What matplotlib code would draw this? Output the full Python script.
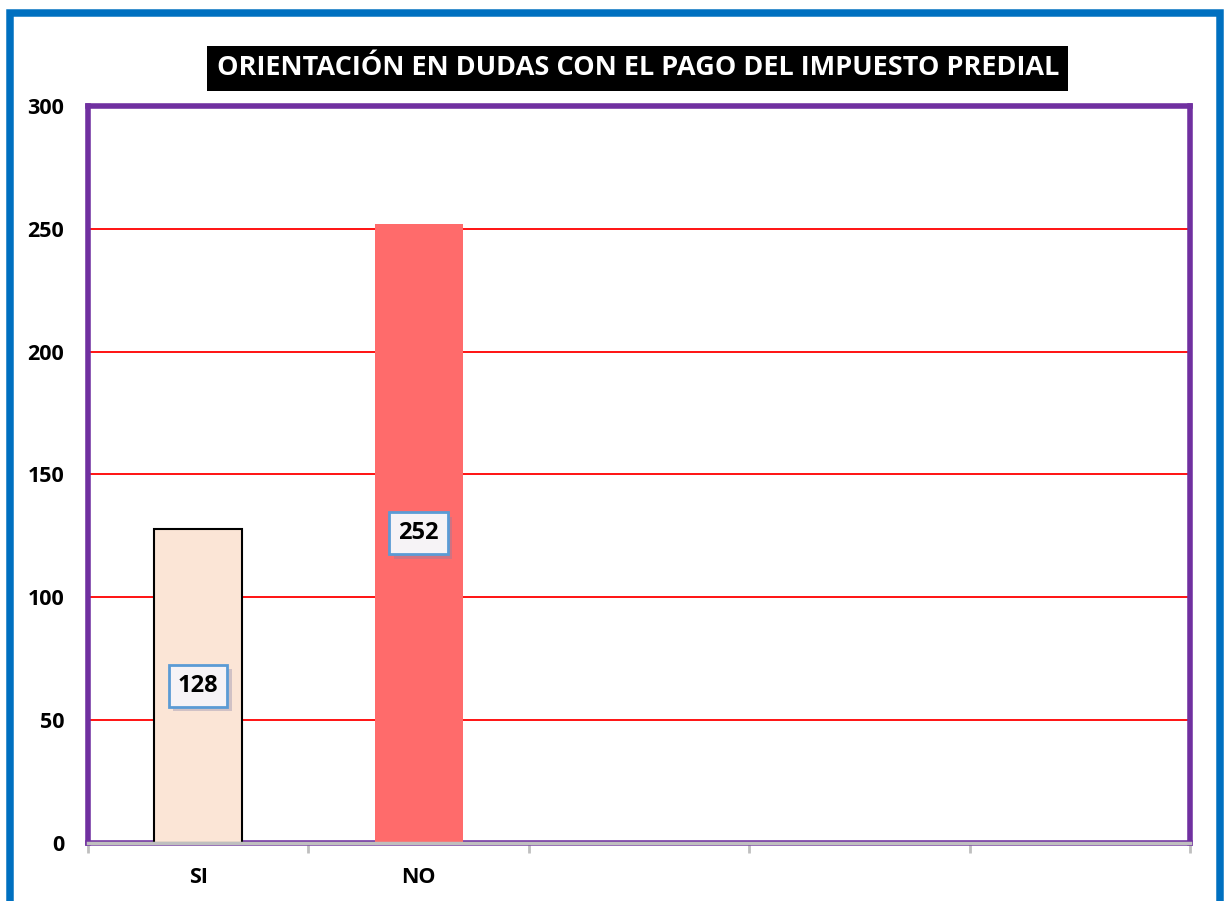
import matplotlib
matplotlib.use('Agg')
import matplotlib.pyplot as plt
import matplotlib.patheffects as pe
from matplotlib.patches import Rectangle

# datos
categorias = ['SI', 'NO', '', '', '']
valores = [128, 252]
colores = ['#FBE5D6', '#FF6B6B']
bordes = ['black', 'none']
titulo = 'ORIENTACIÓN EN DUDAS CON EL PAGO DEL IMPUESTO PREDIAL'
yticks = [0, 50, 100, 150, 200, 250, 300]

plt.rcParams['font.family'] = ['Open Sans', 'DejaVu Sans']

fig = plt.figure(figsize=(12.24, 9.01), dpi=100)
ax = fig.add_axes([0.0719, 0.0644, 0.9003, 0.818])

x = list(range(len(categorias)))
for i, v in enumerate(valores):
    ax.bar(x[i], v, width=0.4, color=colores[i], edgecolor=bordes[i],
           linewidth=1.5, zorder=3)
    t = ax.text(x[i], v / 2, str(v), ha='center', va='center',
                fontsize=17, fontweight='bold', zorder=5,
                bbox=dict(boxstyle='square,pad=0.38', fc='#F6F3F6',
                          ec='#5B9BD5', lw=2))
    t.get_bbox_patch().set_path_effects([
        pe.SimplePatchShadow(offset=(3, -3), shadow_rgbFace='#8080A8', alpha=0.35),
        pe.Normal()])

ax.set_xlim(-0.5, len(categorias) - 0.5)
ax.set_ylim(0, 300)
ax.set_yticks(yticks)
ax.set_yticklabels([str(v) for v in yticks], fontsize=15.5, fontweight='bold')
ax.tick_params(axis='y', length=0, pad=17)
ax.set_xticks([i - 0.5 for i in range(len(categorias) + 1)], minor=False)
ax.set_xticklabels([])
ax.set_xticks(x, minor=True)
ax.set_xticklabels(categorias, minor=True, fontsize=15.5, fontweight='bold')
ax.tick_params(axis='x', which='major', length=7, width=2, color='#BFBFBF')
ax.tick_params(axis='x', which='minor', length=0, pad=17)

for y in yticks[1:-1]:
    ax.axhline(y, color='#FF0000', lw=1.3, zorder=1)

for s in ax.spines.values():
    s.set_color('#7030A0')
    s.set_linewidth(4)
ax.axhline(0, color='#BFBFBF', lw=2.5, zorder=4, clip_on=False)

fig.text(0.521, 0.9245, titulo, ha='center', va='center', color='white',
         fontsize=19.5, fontweight='bold',
         bbox=dict(boxstyle='square,pad=0.35', fc='black', ec='none'))

fig.patches.append(Rectangle((9.5 / 1224, -0.1), (1220 - 9.5) / 1224, 1.1 - 13.5 / 901,
                             transform=fig.transFigure, fill=False,
                             ec='#0070C0', lw=5.4, zorder=10))

fig.savefig('out.png', dpi=100)
